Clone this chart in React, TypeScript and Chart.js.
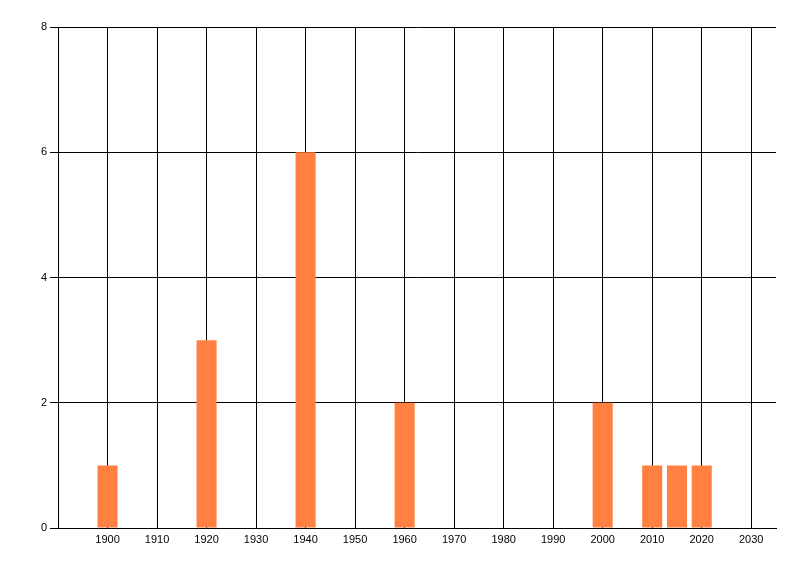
import React, { useEffect, useRef } from "react";
import { Chart, registerables } from "chart.js";

Chart.register(...registerables);

const years = [1900, 1920, 1940, 1960, 2000, 2010, 2015, 2020];
const counts = [1, 3, 6, 2, 2, 1, 1, 1];
const xTickYears = [1900, 1910, 1920, 1930, 1940, 1950, 1960, 1970, 1980, 1990, 2000, 2010, 2020, 2030];
const yTickValues = [0, 2, 4, 6, 8];
const xMin = 1890;
const xMax = 2035;
const yMin = 0;
const yMax = 8;

export default function App() {
  const ref = useRef<HTMLCanvasElement | null>(null);

  useEffect(() => {
    if (!ref.current) return;
    const chart = new Chart(ref.current, {
      type: "bar",
      data: {
        datasets: [
          {
            data: years.map((y, i) => ({ x: y, y: counts[i] })),
            backgroundColor: "rgb(255,128,64)",
            borderWidth: 0,
            inflateAmount: 0,
            barPercentage: 1,
            categoryPercentage: 0.81,
          },
        ],
      },
      options: {
        animation: false,
        responsive: false,
        devicePixelRatio: 1,
        layout: { padding: { top: 27, right: 24, left: 0, bottom: 0 } },
        plugins: { legend: { display: false }, tooltip: { enabled: false } },
        scales: {
          x: {
            type: "linear",
            min: xMin,
            max: xMax,
            offset: false,
            afterBuildTicks: (scale: any) => {
              scale.ticks = xTickYears.map((v) => ({ value: v }));
            },
            afterFit: (scale: any) => {
              scale.height = 48;
            },
            ticks: {
              color: "#000",
              padding: 5,
              maxRotation: 0,
              autoSkip: false,
              font: { family: "Liberation Sans", size: 11 },
              callback: (v: any) => String(v),
            },
            grid: { color: "#000", lineWidth: 1, drawTicks: false, tickLength: 0, offset: false },
            border: { display: true, color: "#000", width: 1 },
          },
          y: {
            type: "linear",
            min: yMin,
            max: yMax,
            afterBuildTicks: (scale: any) => {
              scale.ticks = yTickValues.map((v) => ({ value: v }));
            },
            afterFit: (scale: any) => {
              scale.width = 58;
            },
            ticks: {
              color: "#000",
              padding: 3,
              font: { family: "Liberation Sans", size: 11 },
              callback: (v: any) => String(v),
            },
            grid: { color: "#000", lineWidth: 1, drawTicks: true, tickLength: 8, offset: false },
            border: { display: true, color: "#000", width: 1 },
          },
        },
      },
    });
    return () => chart.destroy();
  }, []);

  return (
    <div style={{ position: "absolute", left: 0, top: 0, width: 800, height: 576, background: "#fff" }}>
      <canvas ref={ref} width={800} height={576} style={{ display: "block" }} />
    </div>
  );
}
